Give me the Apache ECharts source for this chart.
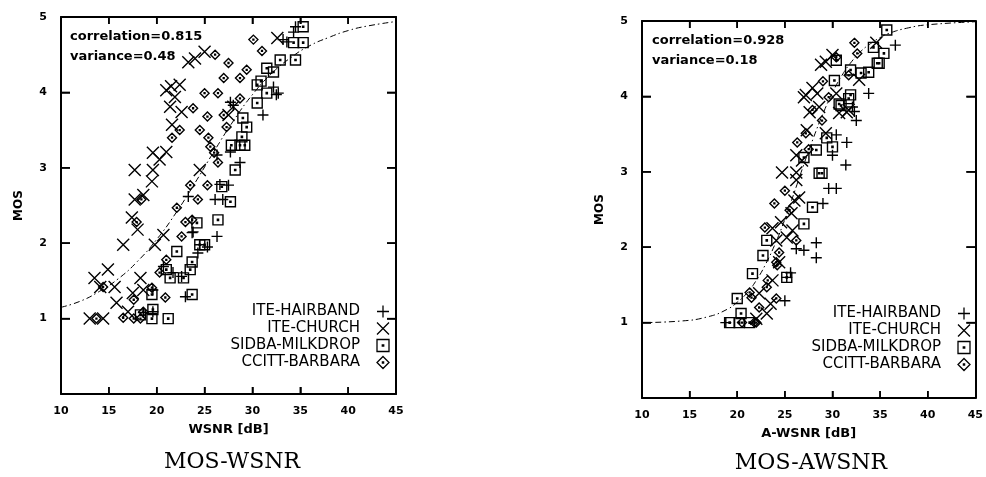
<!DOCTYPE html>
<html>
<head>
<meta charset="utf-8">
<title>MOS-WSNR / MOS-AWSNR</title>
<script src="https://cdn.jsdelivr.net/npm/echarts@6/dist/echarts.min.js"></script>
<style>
  html, body { margin: 0; padding: 0; background: #fff; }
  #main { width: 986px; height: 477px; }
</style>
</head>
<body>
<div id="main"></div>
<script>
// series names (legend)
var seriesNames = ['ITE-HAIRBAND', 'ITE-CHURCH', 'SIDBA-MILKDROP', 'CCITT-BARBARA'];
var xTicks = [10, 15, 20, 25, 30, 35, 40, 45];
var yTicks = [1, 2, 3, 4, 5];

// left plot: MOS vs WSNR [dB]
var wsnrHairband = [[34.5,4.87],[34.3,4.80],[33.6,4.67],[33.2,4.70],[32.7,3.99],[32.2,4.07],[32.5,3.97],[31.1,3.70],
  [28.0,3.83],[27.7,3.87],[28.7,3.07],[26.3,3.17],[27.7,3.21],[26.9,2.58],[26.6,2.78],[27.5,2.77],[26.1,2.58],[23.3,2.62],
  [26.3,2.09],[23.8,2.15],[25.3,1.95],[24.5,1.98],[23.7,2.14],[22.6,1.56],[21.7,1.61],[23.0,1.29],[19.6,1.38],
  [19.6,1.09],[18.6,1.08],[20.7,1.69],[24.3,1.87]];
var wsnrChurch = [[23.3,4.40],[25.0,4.54],[24.0,4.45],[32.6,4.72],[21.0,4.03],[22.4,4.10],[21.9,3.94],[21.4,3.81],
  [22.6,3.74],[21.6,3.57],[19.6,3.20],[21.0,3.21],[20.3,3.11],[17.7,2.97],[19.6,2.97],[19.5,2.82],[17.7,2.58],
  [18.6,2.64],[17.4,2.34],[24.5,2.97],[28.0,3.81],[16.5,1.98],[18.0,2.18],[19.8,1.98],[20.7,2.11],[13.5,1.54],
  [14.9,1.65],[15.6,1.42],[14.1,1.42],[18.3,1.54],[17.5,1.34],[15.8,1.21],[17.0,1.09],[13.0,1.00],[14.4,1.00],
  [18.6,1.38],[27.5,3.70],[21.5,4.08]];
var wsnrMilkdrop = [[35.3,4.87],[35.3,4.66],[34.3,4.66],[34.5,4.43],[32.9,4.43],[31.5,4.32],[32.2,4.27],[30.5,4.10],
  [31.5,3.99],[30.5,3.86],[29.0,3.66],[29.4,3.54],[28.9,3.41],[29.2,3.30],[28.7,3.30],[28.2,2.97],[26.8,2.75],
  [27.7,2.55],[26.4,2.31],[24.2,2.27],[22.1,1.89],[24.5,1.98],[25.0,1.98],[23.7,1.75],[23.5,1.65],[21.0,1.65],
  [21.4,1.54],[22.8,1.54],[23.7,1.32],[19.5,1.32],[19.6,1.12],[21.2,1.00],[19.5,1.00],[18.3,1.05],[27.8,3.30],
  [30.9,4.15]];
var wsnrBarbara = [[30.1,4.70],[31.0,4.55],[26.1,4.50],[27.5,4.39],[27.0,4.19],[29.4,4.30],[28.7,4.19],[26.4,3.99],
  [25.0,3.99],[28.7,3.92],[23.8,3.79],[25.3,3.68],[27.0,3.70],[24.5,3.50],[22.4,3.50],[21.6,3.40],[25.4,3.40],
  [25.6,3.28],[26.4,3.07],[27.3,3.54],[23.5,2.77],[25.3,2.77],[24.3,2.58],[22.1,2.47],[23.0,2.28],[23.7,2.31],
  [17.9,2.28],[18.4,2.58],[22.6,2.09],[21.0,1.78],[20.3,1.61],[19.5,1.41],[17.6,1.25],[20.9,1.28],[16.5,1.01],
  [18.3,1.00],[17.6,1.00],[14.4,1.42],[13.7,1.00],[18.6,1.09],[26.0,3.20]];
// dash-dot fit curve
var wsnrFit = [[10,1.15],[12,1.23],[14,1.36],[16,1.53],[18,1.76],[20,2.05],[22,2.40],[24,2.80],[26,3.22],[28,3.62],
  [30,3.97],[32,4.25],[34,4.46],[36,4.62],[38,4.73],[40,4.82],[42,4.88],[45,4.94]];

// right plot: MOS vs A-WSNR [dB]
var awsnrHairband = [[36.6,4.68],[33.8,4.04],[32.5,3.68],[32.3,3.80],[31.5,3.39],[31.4,3.09],[30.4,2.78],[29.6,2.78],
  [29.0,2.58],[30.0,3.22],[32.1,3.86],[30.4,3.49],[28.3,2.06],[27.0,1.96],[28.3,1.86],[25.6,1.66],[25.2,1.60],
  [25.0,1.29],[18.8,1.00],[26.2,1.98]];
var awsnrChurch = [[29.3,4.46],[30.0,4.55],[28.8,4.42],[27.2,4.02],[27.9,4.11],[27.6,3.79],[28.6,3.86],[27.3,3.55],
  [26.2,3.22],[26.8,3.15],[24.7,2.99],[26.2,2.89],[26.5,2.66],[23.7,2.25],[25.8,2.22],[34.6,4.71],[30.7,3.78],
  [31.7,3.82],[29.3,3.51],[30.4,4.04],[32.8,4.22],[23.1,1.12],[22.3,1.39],[23.7,1.56],[24.4,1.80],[24.1,2.09],
  [25.2,2.13],[28.4,4.04],[27.0,3.99],[31.5,3.79],[26.0,2.62],[24.6,2.33],[25.7,2.45],[26.2,2.99],[22.0,1.05],
  [23.5,1.25]];
var awsnrMilkdrop = [[35.7,4.88],[34.3,4.65],[35.4,4.57],[34.9,4.44],[33.8,4.32],[33.0,4.31],[30.2,4.21],[31.7,3.97],
  [30.7,3.90],[29.4,3.45],[28.6,2.98],[27.9,2.53],[27.0,2.31],[30.0,3.33],[28.3,3.29],[23.1,2.09],[22.7,1.89],
  [21.6,1.65],[20.0,1.32],[20.4,1.12],[19.2,1.00],[20.2,1.00],[21.3,1.00],[25.2,1.60],[30.4,4.48],[31.9,4.35],
  [31.9,4.02],[30.9,3.88],[27.0,3.19],[28.9,2.98],[34.7,4.44]];
var awsnrBarbara = [[32.3,4.71],[32.6,4.57],[30.4,4.52],[31.7,4.28],[29.6,3.99],[27.9,3.82],[26.3,3.39],[27.2,3.51],
  [23.9,2.58],[22.9,2.26],[25.5,2.49],[28.9,3.68],[21.3,1.40],[24.1,1.32],[24.1,1.80],[21.8,1.00],[23.2,1.56],
  [22.3,1.20],[24.4,1.93],[26.2,2.09],[24.2,1.76],[23.1,1.47],[21.5,1.33],[29.0,4.20],[27.5,3.30],[25.0,2.75],
  [20.5,1.00],[22.0,1.00]];
var awsnrFit = [[10,1.00],[14,1.02],[17,1.08],[19,1.18],[20,1.27],[21,1.39],[22,1.56],[23,1.78],[24,2.05],[25,2.37],
  [26,2.73],[27,3.10],[28,3.45],[29,3.77],[30,4.05],[31,4.28],[32,4.46],[33,4.60],[34,4.70],[35,4.78],[36,4.84],
  [38,4.91],[40,4.95],[45,4.99]];

var sans = 'DejaVu Sans';
// marker shapes: plus, cross, square with dot, diamond with dot
var markers = [
  'path://M0,6L12,6M6,0L6,12',
  'path://M0,0L12,12M12,0L0,12',
  'path://M1,1L11,1L11,11L1,11ZM5.4,5.4L6.6,5.4L6.6,6.6L5.4,6.6Z',
  'path://M6,0L12,6L6,12L0,6ZM5.4,5.4L6.6,5.4L6.6,6.6L5.4,6.6Z'
];
var markerSize = [11, 12, 10, 9];

var chart = echarts.init(document.getElementById('main'));

/*x axes: bottom one with labels, top one only for the frame*/
function xAxes(grid, name) {
  var base = {
    gridIndex: grid, type: 'value', min: xTicks[0], max: xTicks[xTicks.length - 1], interval: 5,
    axisLine: { show: true, onZero: false, lineStyle: { color: '#000', width: 2 } },
    axisTick: { show: true, inside: true, length: 7, lineStyle: { color: '#000', width: 1.5 } },
    splitLine: { show: false }
  };
  var bottom = Object.assign({}, base, {
    position: 'bottom', name: name, nameLocation: 'middle', nameGap: 29,
    nameTextStyle: { fontFamily: sans, fontWeight: 'bold', fontSize: 13, color: '#000' },
    axisLabel: { margin: 12, fontFamily: sans, fontWeight: 'bold', fontSize: 11, color: '#000' }
  });
  var top = Object.assign({}, base, { position: 'top', axisLabel: { show: false } });
  return [bottom, top];
}
function yAxes(grid, gap) {
  var base = {
    gridIndex: grid, type: 'value', min: 0, max: yTicks[yTicks.length - 1], interval: 1,
    axisLine: { show: true, onZero: false, lineStyle: { color: '#000', width: 2 } },
    axisTick: { show: true, inside: true, length: 9, lineStyle: { color: '#000', width: 1.5 } },
    splitLine: { show: false }
  };
  var left = Object.assign({}, base, {
    position: 'left', name: 'MOS', nameLocation: 'middle', nameGap: gap,
    nameTextStyle: { fontFamily: sans, fontWeight: 'bold', fontSize: 12, color: '#000' },
    axisLabel: {
      margin: 14, fontFamily: sans, fontWeight: 'bold', fontSize: 11, color: '#000',
      formatter: function (v) { return yTicks.indexOf(v) >= 0 ? String(v) : ''; }
    }
  });
  var right = Object.assign({}, base, { position: 'right', axisLabel: { show: false } });
  return [left, right];
}

function scatterSeries(axisIdx, lists) {
  return lists.map(function (d, i) {
    return {
      name: seriesNames[i], type: 'scatter', xAxisIndex: axisIdx, yAxisIndex: axisIdx, data: d,
      symbol: markers[i], symbolSize: markerSize[i], symbolKeepAspect: true,
      itemStyle: { color: 'none', borderColor: '#000', borderWidth: 1.4, opacity: 1 },
      emphasis: { disabled: true }, z: 3
    };
  });
}
function fitSeries(axisIdx, d) {
  return {
    name: 'fit', type: 'line', xAxisIndex: axisIdx, yAxisIndex: axisIdx, data: d, smooth: true,
    showSymbol: false, silent: true, z: 2,
    lineStyle: { color: '#000', width: 1, type: [6, 3, 1.5, 3] }
  };
}

/*inward tick marks on all four frame sides, placed at the tick values through the axes*/
function tickSeries(axisIdx) {
  var xIn = xTicks.slice(1, -1), yIn = yTicks.slice(0, -1);
  var xMin = xTicks[0], xMax = xTicks[xTicks.length - 1], yMax = yTicks[yTicks.length - 1];
  var sides = [
    { data: xIn.map(function (v) { return [v, 0]; }), size: [1.5, 7], offset: [0, -3.5] },
    { data: xIn.map(function (v) { return [v, yMax]; }), size: [1.5, 7], offset: [0, 3.5] },
    { data: yIn.map(function (v) { return [xMin, v]; }), size: [9, 1.5], offset: [4.5, 0] },
    { data: yIn.map(function (v) { return [xMax, v]; }), size: [9, 1.5], offset: [-4.5, 0] }
  ];
  return sides.map(function (s) {
    return {
      name: 'tick', type: 'scatter', xAxisIndex: axisIdx, yAxisIndex: axisIdx, data: s.data,
      symbol: 'rect', symbolSize: s.size, symbolOffset: s.offset, clip: false, silent: true,
      itemStyle: { color: '#000', opacity: 1 }, emphasis: { disabled: true }, z: 1
    };
  });
}

function legendAt(left, top) {
  return {
    data: seriesNames, orient: 'vertical', left: left, top: top, align: 'right',
    itemWidth: 36, itemHeight: 12, itemGap: 0, selectedMode: false,
    itemStyle: { borderWidth: 1.3 },
    textStyle: { fontFamily: sans, fontSize: 15, color: '#000', width: 130, align: 'right', lineHeight: 17 }
  };
}

function label(x, y, text, font, align, valign, lh) {
  var style = {
    text: text, font: font, fill: '#000',
    align: align, textAlign: align, verticalAlign: valign, textVerticalAlign: valign
  };
  if (lh) style.lineHeight = lh;
  return { type: 'text', x: x, y: y, silent: true, z: 10, style: style };
}

var option = {
  animation: false,
  grid: [
    { left: 61, top: 17, width: 335, height: 377 },
    { left: 642, top: 21, width: 335, height: 377 }
  ],
  xAxis: xAxes(0, 'WSNR [dB]').concat(xAxes(1, 'A-WSNR [dB]')),
  yAxis: yAxes(0, 36).concat(yAxes(1, 36)),
  legend: [legendAt(225, 298), legendAt(806, 300)],
  series: tickSeries(0).concat(tickSeries(2))
    .concat([fitSeries(0, wsnrFit)])
    .concat(scatterSeries(0, [wsnrHairband, wsnrChurch, wsnrMilkdrop, wsnrBarbara]))
    .concat([fitSeries(2, awsnrFit)])
    .concat(scatterSeries(2, [awsnrHairband, awsnrChurch, awsnrMilkdrop, awsnrBarbara])),
  graphic: [
    label(70, 27, 'correlation=0.815\nvariance=0.48', 'bold 13px "DejaVu Sans"', 'left', 'top', 20),
    label(652, 31, 'correlation=0.928\nvariance=0.18', 'bold 13px "DejaVu Sans"', 'left', 'top', 20),
    label(232, 462, 'MOS-WSNR', '22px "DejaVu Serif"', 'center', 'middle'),
    label(811, 463, 'MOS-AWSNR', '22px "DejaVu Serif"', 'center', 'middle')
  ]
};
chart.setOption(option);
</script>
</body>
</html>
